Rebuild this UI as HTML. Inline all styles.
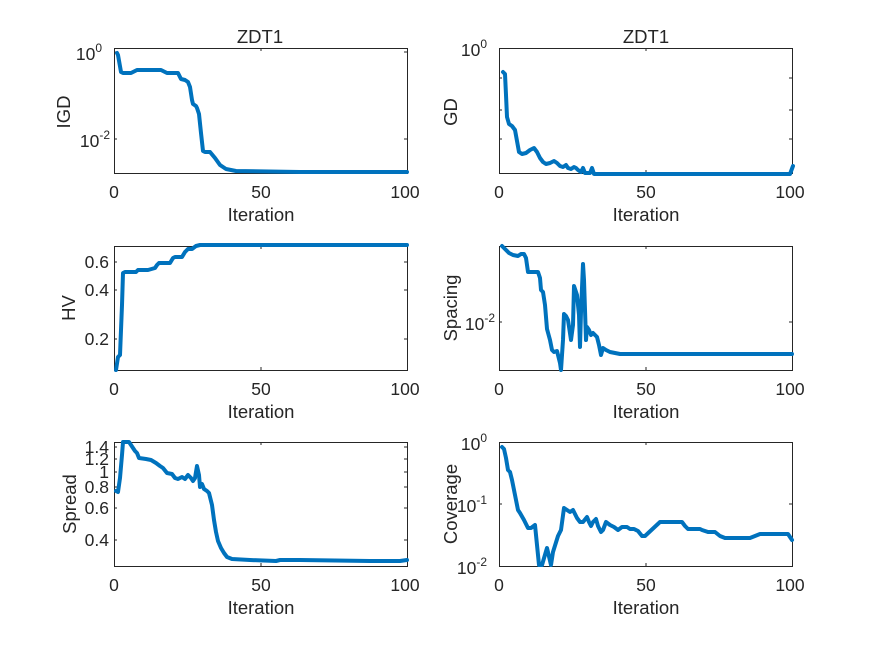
<!DOCTYPE html>
<html><head><meta charset="utf-8"><style>
html,body{margin:0;padding:0;background:#fff;}
svg{display:block;font-family:"Liberation Sans",Arial,sans-serif;fill:#262626;}
.ax{fill:none;stroke:#262626;stroke-width:1;}
.ln{fill:none;stroke:#0072BD;stroke-width:4;stroke-linejoin:round;stroke-linecap:round;}
.t{font-size:17.5px;}
.l{font-size:18.5px;}
.tk{stroke:#262626;stroke-width:1;}
</style></head><body>
<svg width="875" height="656" viewBox="0 0 875 656">
<rect width="875" height="656" fill="#fff"/>

<rect class="ax" x="114.5" y="48.5" width="293" height="125"/>
<rect class="ax" x="499.5" y="48.5" width="293" height="125"/>
<rect class="ax" x="114.5" y="246.5" width="293" height="124"/>
<rect class="ax" x="499.5" y="246.5" width="293" height="124"/>
<rect class="ax" x="114.5" y="442.5" width="293" height="124"/>
<rect class="ax" x="499.5" y="442.5" width="293" height="124"/>

<g class="tk">
<path d="M261 173v-3M261 48v3M407 173v-3M646 173v-3M646 48v3M261 370v-3M261 246v3M646 370v-3M646 246v3M261 566v-3M261 442v3M646 566v-3M646 442v3"/>
<path d="M114 139h3M407 139h-3M114 52h3M407 52h-3"/>
<path d="M499 78h3M792 78h-3M499 110h3M792 110h-3M499 139h3M792 139h-3"/>
<path d="M114 262h3M407 262h-3M114 290h3M407 290h-3M114 339h3M407 339h-3"/>
<path d="M499 322h3M792 322h-3"/>
<path d="M114 447h3M407 447h-3M114 459h3M407 459h-3M114 472h3M407 472h-3M114 487h3M407 487h-3M114 508h3M407 508h-3M114 540h3M407 540h-3"/>
<path d="M499 504h3M792 504h-3"/>
</g>

<g class="t" text-anchor="middle">
<text x="114" y="198">0</text><text x="261" y="198">50</text><text x="405" y="198">100</text>
<text x="499" y="198">0</text><text x="646" y="198">50</text><text x="790" y="198">100</text>
<text x="114" y="395">0</text><text x="261" y="395">50</text><text x="405" y="395">100</text>
<text x="499" y="395">0</text><text x="646" y="395">50</text><text x="790" y="395">100</text>
<text x="114" y="591">0</text><text x="261" y="591">50</text><text x="405" y="591">100</text>
<text x="499" y="591">0</text><text x="646" y="591">50</text><text x="790" y="591">100</text>
</g>
<g class="l" text-anchor="middle">
<text x="261" y="221">Iteration</text><text x="646" y="221">Iteration</text>
<text x="261" y="418">Iteration</text><text x="646" y="418">Iteration</text>
<text x="261" y="614">Iteration</text><text x="646" y="614">Iteration</text>
<text x="260" y="43">ZDT1</text><text x="646" y="43">ZDT1</text>
<text transform="translate(70,112) rotate(-90)">IGD</text>
<text transform="translate(457,112) rotate(-90)">GD</text>
<text transform="translate(75,308) rotate(-90)">HV</text>
<text transform="translate(457,308) rotate(-90)">Spacing</text>
<text transform="translate(76,504) rotate(-90)">Spread</text>
<text transform="translate(457,504) rotate(-90)">Coverage</text>
</g>

<g class="t" text-anchor="end">
<text x="102" y="60">10<tspan font-size="12" dy="-8">0</tspan></text>
<text x="110" y="147">10<tspan font-size="12" dy="-8">-2</tspan></text>
<text x="487" y="56">10<tspan font-size="12" dy="-8">0</tspan></text>
<text x="109" y="268">0.6</text><text x="109" y="296">0.4</text><text x="109" y="345">0.2</text>
<text x="495" y="330">10<tspan font-size="12" dy="-8">-2</tspan></text>
<text x="109" y="453">1.4</text><text x="109" y="465">1.2</text><text x="109" y="478">1</text>
<text x="109" y="493">0.8</text><text x="109" y="514">0.6</text><text x="109" y="546">0.4</text>
<text x="487" y="450">10<tspan font-size="12" dy="-8">0</tspan></text>
<text x="487" y="512">10<tspan font-size="12" dy="-8">-1</tspan></text>
<text x="487" y="574">10<tspan font-size="12" dy="-8">-2</tspan></text>
</g>

<polyline class="ln" points="117,53 118,55 121,72 123,73 131,73 137,70 161,70 167,73 178,73 181,79 185,80 188,82 190,87 192,100 193,104 196,106 197,108 199,114 201,133 203,151 205,152 210,152 215,158 220,165 226,169 236,171 300,172 407,172"/>
<polyline class="ln" points="503,72 505,74 506,95 507,117 509,124 512,126 515,130 517,141 519,152 522,154 526,153 530,150 534,148 537,152 540,158 543,162 546,164 550,163 554,161 557,163 560,166 563,167 566,165 568,168 571,169 574,167 576,168 578,170 581,172 583,168 585,173 588,173 590,173 592,168 594,174 600,174 790,174 793,166"/>
<polyline class="ln" points="116,370 118,357 120,355 122,305 123,273 125,272 136,272 138,270 148,270 155,268 157,265 159,263 170,263 173,258 175,257 182,257 185,252 188,249 192,249 196,246 200,245 407,245"/>
<polyline class="ln" points="502,246 505,249 509,253 513,255 518,256 521,254 524,254 526,258 528,272 537,272 538,272 540,278 541,290 543,292 545,305 547,329 550,340 552,350 554,352 557,351 560,363 561,370 563,340 564,314 566,316 568,320 571,340 573,325 574,286 577,295 579,315 580,347 581,312 583,264 584,280 586,340 587,327 589,330 591,335 593,333 597,337 599,345 601,355 603,348 606,350 610,352 620,354 792,354"/>
<polyline class="ln" points="116,491 118,492 120,478 122,455 123,442 126,442 129,442 133,448 135,451 137,453 139,458 146,459 151,460 156,463 160,466 163,468 167,473 172,474 175,478 178,479 182,477 185,479 188,475 191,478 193,481 195,478 197,466 199,475 200,487 202,484 204,489 207,491 209,493 212,505 214,520 216,532 218,541 221,548 224,553 227,557 232,559 250,560 276,561 280,560 300,560 370,561 400,561 407,560"/>
<polyline class="ln" points="502,447 504,449 506,458 508,470 510,472 512,480 514,490 516,500 518,510 520,513 524,520 528,528 531,528 535,525 539,565 542,565 547,548 551,565 553,552 558,536 561,530 564,508 567,510 570,512 573,510 577,518 580,522 583,522 587,517 589,522 591,526 593,522 596,519 598,526 601,532 603,530 606,522 610,525 614,527 618,530 622,527 627,527 630,529 634,529 638,531 642,536 645,536 660,522 665,522 682,522 685,526 688,529 700,529 702,530 708,532 715,532 720,536 725,538 730,538 750,538 755,536 760,534 788,534 792,540"/>
</svg>
</body></html>
